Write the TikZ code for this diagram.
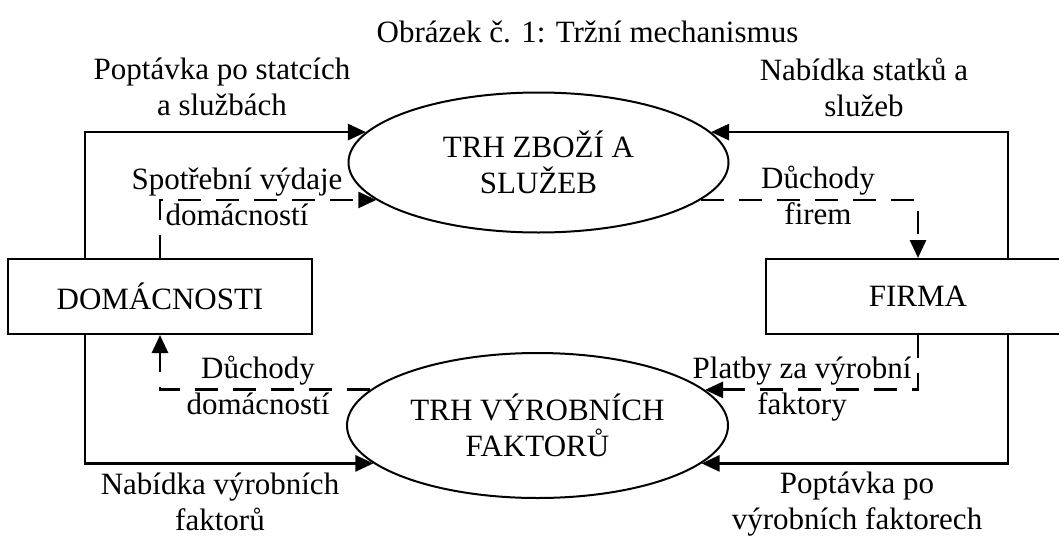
\documentclass[tikz,border=0pt]{standalone}
\usepackage{fontspec}
\setmainfont{Liberation Serif}
\usetikzlibrary{arrows.meta,shapes.geometric}

\begin{document}
\begin{tikzpicture}[x=1pt, y=-1pt, font=\fontsize{31}{36}\selectfont]
\tikzset{box/.style={draw,line width=2pt,minimum width=304pt,minimum height=75pt,inner sep=0},
market/.style={ellipse,draw,line width=2pt,align=center,inner sep=0},
nodelabel/.style={align=center,inner sep=0},
flow/.style={line width=2.8pt,-{Triangle[length=18pt,width=16pt]}},
money/.style={flow,dash pattern=on 23pt off 15pt}}

\useasboundingbox (0,0) rectangle (1059,538);

\node (title) [anchor=base] at (587.5,42) {Obrázek č. 1: Tržní mechanismus};

\node (dom) [box] at (160,296.5) {DOMÁCNOSTI};
\node (firma) [box] at (918,296.5) {FIRMA};
\node (tz) [market,minimum width=380pt,minimum height=140pt] at (538.5,162.5) {TRH ZBOŽÍ A\\SLUŽEB};
\node (fz) [market,minimum width=381pt,minimum height=145pt] at (537.5,425.5) {TRH VÝROBNÍCH\\FAKTORŮ};

\coordinate (lx) at (85,0);
\coordinate (rx) at (1008,0);

\node (lab1) [nodelabel] at (222,87) {Poptávka po statcích\\a službách};
\node (lab2) [nodelabel] at (864,87) {Nabídka statků a\\služeb};
\node (lab3) [nodelabel] at (237,196.5) {Spotřební výdaje\\domácností};
\node (lab4) [nodelabel] at (818,195.5) {Důchody\\firem};
\node (lab5) [nodelabel] at (258,385.5) {Důchody\\domácností};
\node (lab6) [nodelabel] at (802,389) {Platby za výrobní\\faktory};
\node (lab7) [nodelabel] at (220,501.5) {Nabídka výrobních\\faktorů};
\node (lab8) [nodelabel] at (857,504) {Poptávka po\\výrobních faktorech};

%% Edges
\draw[flow] (dom.north -| lx) |- (tz.170);
\draw[flow] (firma.north -| rx) |- (tz.10);
\draw[flow] (dom.south -| lx) |- (fz.193);
\draw[flow] (firma.south -| rx) |- (fz.-13);

\draw[money] (dom.north) |- (tz.-167);
\draw[money] (tz.-13) -| (firma.north);
\draw[money] (firma.south) |- (fz.12);
\draw[money] (fz.168) -| (dom.south);

\end{tikzpicture}
\end{document}
